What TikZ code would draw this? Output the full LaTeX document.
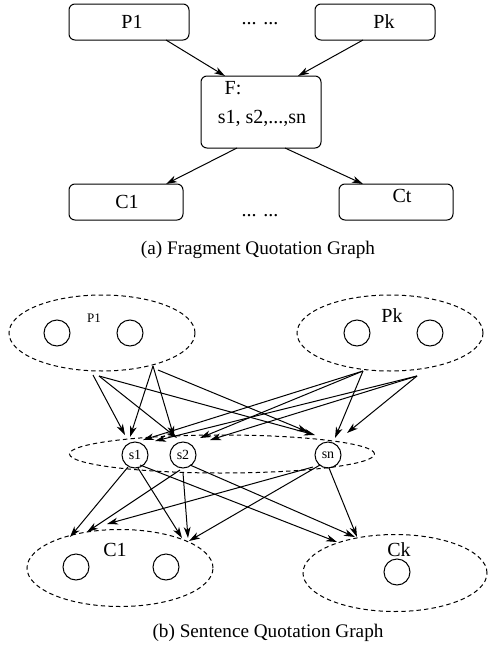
\documentclass[tikz,border=0pt]{standalone}
\usepackage{fontspec}
\setmainfont{Liberation Serif}
\usetikzlibrary{shapes.geometric,arrows.meta}
\begin{document}
\begin{tikzpicture}[x=0.5pt,y=-0.5pt,
 box/.style={draw, rounded corners=3pt, line width=0.5pt, inner sep=0},
 grp/.style={draw, ellipse, dash pattern=on 2.2pt off 1.6pt, line width=0.5pt, inner sep=0},
 item/.style={draw, circle, line width=0.5pt, minimum size=13pt, inner sep=0},
 arr/.style={-{Stealth[length=5.5pt,width=3.4pt,inset=1.6pt]}, line width=0.5pt},
 lbl/.style={font=\fontsize{10}{12}\selectfont, inner sep=0},
 captxt/.style={font=\fontsize{9.6}{12}\selectfont, inner sep=0},
 sml/.style={font=\fontsize{7}{8}\selectfont, inner sep=0},
]
\useasboundingbox (0,0) rectangle (488,648);
% ---------- (a) ----------
\node[box, minimum width=60pt, minimum height=18pt] (p1box) at (129,22) {};
\node[lbl] (p1t) at (132,22) {P1};
\node[box, minimum width=60pt, minimum height=18pt] (pkbox) at (375,22) {};
\node[lbl] (pkt) at (384,22) {Pk};
\node[lbl] (dots1) at (260,24) {... ...};
\node[box, minimum width=60pt, minimum height=36pt] (fbox) at (261,112) {};
\node[lbl] (ft) at (233,88) {F:};
\node[lbl] (st) at (262,118) {s1, s2,...,sn};
\node[box, minimum width=57pt, minimum height=18pt] (c1box) at (126,202) {};
\node[lbl] (c1t) at (127,202) {C1};
\node[box, minimum width=57pt, minimum height=18pt] (ctbox) at (396,202) {};
\node[lbl] (ctt) at (402,196) {Ct};
\node[lbl] (dots2) at (260,216) {... ...};
\node[captxt] (capa) at (258,250) {(a) Fragment Quotation Graph};
\coordinate (ap1) at (166,40); \coordinate (af1) at (225,76);
\coordinate (apk) at (363,40); \coordinate (af2) at (298,76);
\coordinate (af3) at (237,148); \coordinate (ac1) at (166,184);
\coordinate (af4) at (285,148); \coordinate (act) at (363,184);
\draw[arr] (ap1) -- (af1);
\draw[arr] (apk) -- (af2);
\draw[arr] (af3) -- (ac1);
\draw[arr] (af4) -- (act);
% ---------- (b) ----------
\node[grp, minimum width=93pt, minimum height=38pt] (gp1) at (102,333) {};
\node[item] (gp1a) at (57,333) {};
\node[item] (gp1b) at (130,333) {};
\node[font=\fontsize{6.5}{8}\selectfont, inner sep=0] (gp1t) at (94,318) {P1};
\node[grp, minimum width=93pt, minimum height=38pt] (gpk) at (390,333) {};
\node[item] (gpka) at (357,333) {};
\node[item] (gpkb) at (430,333) {};
\node[lbl] (gpkt) at (392,316) {Pk};
\node[grp, minimum width=152.5pt, minimum height=19pt] (gs) at (222,454) {};
\node[item, sml] (s1) at (135,455) {s1};
\node[item, sml] (s2) at (183,455) {s2};
\node[item, sml] (sn) at (328,455) {sn};
\node[grp, minimum width=93pt, minimum height=38.5pt] (gc1) at (120,568) {};
\node[item] (gc1a) at (76,567) {};
\node[item] (gc1b) at (166,567) {};
\node[lbl] (gc1t) at (115,550) {C1};
\node[grp, minimum width=92pt, minimum height=38.5pt] (gck) at (395,573) {};
\node[item] (gcka) at (397,572) {};
\node[lbl] (gckt) at (399,550) {Ck};
\node[captxt] (capb) at (268,633) {(b) Sentence Quotation Graph};
% sources
\coordinate (L1) at (93,375); \coordinate (L2) at (99,376);
\coordinate (T1) at (153,366); \coordinate (T2) at (158,370);
\coordinate (R1) at (363,371); \coordinate (R2) at (417,376);
% tips
\coordinate (L1s1) at (125,435);
\coordinate (L2s2) at (177,438); \coordinate (L2sn) at (315,435);
\coordinate (T1s1) at (130,437); \coordinate (T1s2) at (174,437);
\coordinate (T2sn) at (308,432);
\coordinate (R1s1) at (143,440); \coordinate (R1s2) at (200,438); \coordinate (R1sn) at (335,438);
\coordinate (R2s1) at (155,441); \coordinate (R2s2) at (210,440); \coordinate (R2sn) at (347,433);
\draw[arr] (L1) -- (L1s1);
\draw[arr] (L2) -- (L2s2);
\draw[arr] (L2) -- (L2sn);
\draw[arr] (T1) -- (T1s1);
\draw[arr] (T1) -- (T1s2);
\draw[arr] (T2) -- (T2sn);
\draw[arr] (R1) -- (R1s1);
\draw[arr] (R1) -- (R1s2);
\draw[arr] (R1) -- (R1sn);
\draw[arr] (R2) -- (R2s1);
\draw[arr] (R2) -- (R2s2);
\draw[arr] (R2) -- (R2sn);
% lower sources
\coordinate (s1a) at (128,467); \coordinate (s1b) at (138,468); \coordinate (s1c) at (140,465);
\coordinate (s2a) at (180,470); \coordinate (s2b) at (183,473); \coordinate (s2c) at (190,465);
\coordinate (sna) at (313,467); \coordinate (snb) at (320,465); \coordinate (snc) at (329,468);
% lower tips
\coordinate (c1l1) at (70,537); \coordinate (c1r1) at (182,538); \coordinate (ck1) at (337,542);
\coordinate (c1l2) at (87,532); \coordinate (c1r2) at (188,538); \coordinate (ck2) at (355,537);
\coordinate (c1l3) at (107,524); \coordinate (c1r3) at (189,541); \coordinate (ck3) at (357,537);
\draw[arr] (s1a) -- (c1l1);
\draw[arr] (s1b) -- (c1r1);
\draw[arr] (s1c) -- (ck1);
\draw[arr] (s2a) -- (c1l2);
\draw[arr] (s2b) -- (c1r2);
\draw[arr] (s2c) -- (ck2);
\draw[arr] (sna) -- (c1l3);
\draw[arr] (snb) -- (c1r3);
\draw[arr] (snc) -- (ck3);
\end{tikzpicture}
\end{document}
